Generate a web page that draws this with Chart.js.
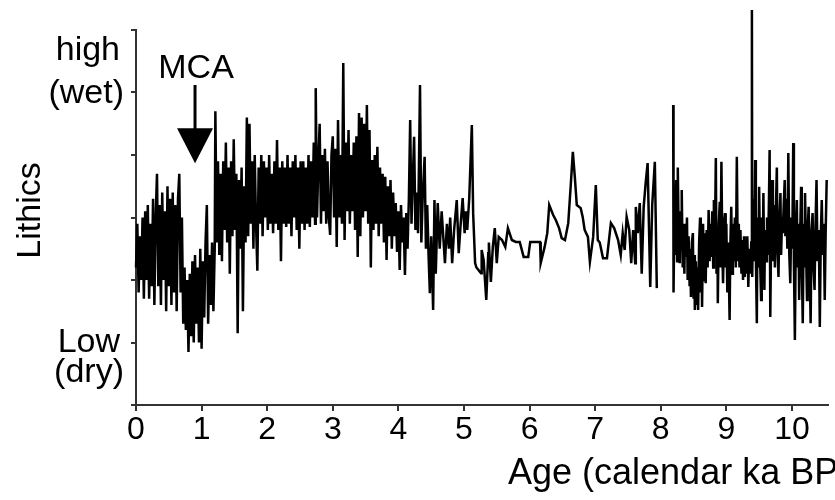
<!DOCTYPE html>
<html>
<head>
<meta charset="utf-8">
<script src="https://cdn.jsdelivr.net/npm/chart.js@4.4.1/dist/chart.umd.min.js"></script>
<style>
  html, body { margin: 0; padding: 0; background: #fff; }
  #wrap { width: 835px; height: 500px; }
</style>
</head>
<body>
<div id="wrap"><canvas id="lithicsChart" width="835" height="500"></canvas></div>
<script>
// ages in calendar ka BP, lithics in relative units (0 = low/dry, 6 = high/wet)
const ageEarly = [0.00,0.02,0.04,0.06,0.08,0.10,0.12,0.14,0.16,0.18,0.20,0.22,0.24,0.26,0.28,0.30,0.32,0.34,0.36,0.38,
  0.40,0.42,0.44,0.46,0.48,0.50,0.52,0.54,0.56,0.58,0.60,0.62,0.64,0.66,0.68,0.70,0.72,0.74,0.76,0.78,
  0.80,0.82,0.84,0.86,0.88,0.90,0.92,0.94,0.96,0.98,1.00,1.02,1.04,1.06,1.08,1.10,1.12,1.14,1.16,1.18,
  1.20,1.21,1.23,1.25,1.27,1.29,1.31,1.33,1.35,1.37,1.39,1.41,1.43,1.45,1.47,1.49,1.51,1.53,1.55,1.57,
  1.59,1.61,1.63,1.65,1.67,1.69,1.71,1.73,1.75,1.77,1.79,1.81,1.83,1.85,1.87,1.89,1.91,1.93,1.95,1.97,
  1.99,2.01,2.03,2.05,2.07,2.09,2.11,2.13,2.15,2.17,2.19,2.21,2.23,2.25,2.27,2.29,2.31,2.33,2.35,2.37,
  2.39,2.41,2.43,2.45,2.47,2.49,2.51,2.53,2.55,2.57,2.59];
const lithicsEarly = [2.2,2.9,1.8,2.7,2.0,3.0,1.7,3.1,2.0,3.2,1.7,2.9,1.9,3.3,1.6,3.0,3.7,1.9,3.2,1.6,
  3.4,2.0,3.1,1.5,3.5,1.9,3.3,1.6,3.4,1.8,3.2,1.5,3.3,3.7,1.8,3.0,1.3,2.2,1.2,2.0,
  0.85,2.1,1.1,2.3,1.0,2.4,1.3,2.2,1.0,2.5,0.9,2.3,1.4,2.6,3.2,1.3,2.4,1.6,2.6,1.5,
  2.5,4.7,2.6,3.9,2.4,3.7,2.3,3.9,2.8,4.2,2.6,3.8,2.1,3.9,2.7,4.25,2.8,3.7,1.15,3.6,
  2.5,3.8,1.5,3.5,2.6,4.6,2.7,4.5,2.9,3.9,2.5,4.0,2.9,2.15,3.8,2.9,4.0,2.7,3.9,3.0,
  3.8,2.8,4.0,2.9,3.7,2.75,3.9,2.9,4.24,2.8,3.8,2.3,3.9,2.9,3.8,2.85,4.0,2.9,3.8,2.7,
  3.9,3.0,4.0,2.8,3.8,2.5,3.9,2.9,3.9,2.8,3.8];

const ageMid = [2.61,2.63,2.65,2.67,2.69,2.71,2.73,2.74,2.76,2.78,2.80,2.82,2.84,2.86,2.88,2.90,2.92,2.94,2.96,2.98,
  3.00,3.02,3.04,3.06,3.08,3.10,3.12,3.14,3.16,3.18,3.20,3.22,3.24,3.26,3.28,3.30,3.32,3.34,3.36,3.38,
  3.40,3.42,3.44,3.46,3.48,3.50,3.52,3.54,3.56,3.58,3.60,3.62,3.64,3.66,3.68,3.70,3.72,3.74,3.76,3.78,
  3.80,3.82,3.84,3.86,3.88,3.90,3.92,3.94,3.96,3.98,4.00,4.02,4.04,4.06,4.08,4.10,4.12,4.14,4.16,4.18,
  4.20,4.22,4.24,4.26,4.28,4.30,4.33,4.35,4.37,4.40,4.42,4.44,4.46,4.48,4.50,4.53,4.55,4.57,4.60,4.63,
  4.66,4.71,4.74,4.77,4.79,4.82,4.85,4.89,4.92,4.95,4.98,5.01,5.03,5.05,5.08,5.12,5.14,5.17,5.19];
const lithicsMid = [2.9,4.0,2.85,3.9,3.0,4.2,2.9,5.07,3.0,3.9,4.5,2.9,4.0,3.1,4.1,2.9,3.9,3.0,2.72,4.0,
  4.3,3.0,4.1,2.53,4.56,3.0,4.0,2.9,5.47,2.64,4.2,3.1,4.4,2.9,4.0,3.1,4.2,2.8,4.3,2.37,
  4.67,2.7,4.6,3.0,4.5,3.1,4.8,2.9,4.4,2.2,3.92,2.8,4.0,2.9,4.13,2.7,3.8,2.9,3.7,2.6,
  3.65,2.32,3.5,2.7,3.6,2.5,3.4,2.7,3.23,2.45,3.1,2.16,3.2,2.6,3.0,2.08,3.07,2.5,3.3,4.56,
  2.9,3.6,4.29,2.8,3.4,2.75,5.12,2.6,3.3,3.97,2.5,3.2,2.4,1.79,2.7,1.52,3.28,2.1,3.23,2.5,
  3.1,2.27,2.9,2.5,3.0,2.27,2.8,3.28,2.43,2.9,3.31,2.75,3.1,2.8,3.3,4.48,3.07,2.27,2.2];

const ageSmooth = [5.26,5.27,5.30,5.34,5.37,5.38,5.41,5.44,5.47,5.50,5.53,5.58,5.63,5.67,5.73,5.79,5.85,5.91,5.98,6.01,
  6.16,6.17,6.23,6.27,6.30,6.36,6.40,6.45,6.49,6.54,6.59,6.63,6.66,6.69,6.72,6.78,6.81,6.84,6.89,6.92,
  6.97,7.01,7.04,7.07,7.12,7.18,7.24,7.29,7.35,7.39,7.42,7.45,7.48,7.52,7.55,7.58,7.61,7.62,7.65,7.68,
  7.71,7.74,7.77,7.80,7.84,7.87,7.91,7.94];
const lithicsSmooth = [2.11,2.48,2.32,1.68,2.43,2.6,1.97,2.53,2.83,2.27,2.69,2.64,2.53,2.83,2.64,2.61,2.61,2.37,2.37,2.61,
  2.61,2.27,2.53,2.75,3.2,3.04,2.96,2.83,2.67,2.64,2.91,3.55,4.05,3.65,3.2,3.15,3.01,2.8,2.69,2.29,
  2.69,3.52,2.64,2.6,2.35,2.35,2.91,2.83,2.64,2.4,2.75,2.48,3.01,2.8,2.27,2.8,2.27,3.17,2.75,3.23,
  2.1,3.17,3.55,3.87,1.89,3.2,3.89,1.87];

// no samples between ~7.95 and ~8.19 ka
const gapAge = 8.05;

const ageLate = [8.19,8.195,8.21,8.22,8.235,8.25,8.26,8.275,8.29,8.30,8.315,8.32,8.335,8.35,8.36,8.37,8.385,8.40,8.41,8.425,
  8.44,8.45,8.46,8.475,8.49,8.50,8.51,8.52,8.535,8.55,8.56,8.57,8.585,8.60,8.61,8.62,8.63,8.645,8.66,8.67,
  8.685,8.70,8.715,8.73,8.745,8.76,8.77,8.785,8.80,8.81,8.825,8.84,8.85,8.865,8.87,8.885,8.90,8.91,8.925,8.94,
  8.95,8.965,8.98,8.99,9.00,9.015,9.03,9.05,9.06,9.075,9.09,9.10,9.115,9.13,9.145,9.16,9.175,9.19,9.20,9.215,
  9.23,9.24,9.255,9.27,9.28,9.295,9.31,9.32,9.335,9.35,9.365,9.38,9.39,9.395,9.41,9.425,9.44,9.45,9.465,9.475,
  9.49,9.50,9.515,9.53,9.54,9.555,9.565,9.58,9.59,9.605,9.62,9.635,9.65,9.66,9.67,9.685,9.70,9.71,9.725,9.74,
  9.755,9.77,9.78,9.795,9.81,9.825,9.835,9.85,9.86,9.875,9.89,9.90,9.915,9.93,9.945,9.96,9.975,9.99,10.005,10.02,
  10.03,10.045,10.06,10.075,10.085,10.10,10.11,10.125,10.14,10.15,10.165,10.18,10.19,10.20,10.215,10.23,10.24,10.255,10.27,10.285,
  10.30,10.315,10.33,10.345,10.36,10.375,10.39,10.41,10.425,10.44,10.455,10.47,10.485,10.50,10.515,10.53];
const lithicsLate = [4.8,1.8,3.2,2.4,3.6,2.3,3.8,2.6,2.27,3.1,2.5,3.44,2.2,2.9,2.1,2.9,2.37,3.0,2.0,2.7,
  1.9,2.5,1.73,2.6,2.75,1.7,2.4,1.52,2.3,1.6,2.2,1.52,2.6,3.0,1.8,2.7,1.57,2.9,2.0,2.75,
  1.95,2.8,2.2,3.12,2.3,2.9,2.37,3.1,2.2,3.28,2.6,3.95,2.1,2.8,1.63,2.9,3.25,2.2,3.89,2.4,
  1.95,2.9,3.07,2.2,2.9,1.8,2.6,1.36,2.5,3.17,2.1,2.9,2.3,3.0,2.2,3.97,2.3,2.9,2.2,2.8,
  2.1,2.64,2.0,2.7,2.05,2.64,2.1,2.7,1.89,2.5,2.1,2.6,6.32,2.05,3.3,2.3,3.92,2.4,1.31,3.0,
  2.2,3.49,2.3,1.68,3.0,2.2,3.39,1.84,2.8,2.3,3.0,2.4,3.3,4.08,1.41,2.9,3.6,2.3,3.2,2.2,
  3.1,3.8,2.5,2.05,3.0,3.39,2.4,3.0,2.75,3.2,3.6,2.7,3.3,2.5,4.03,2.4,1.95,3.0,2.5,4.19,
  2.3,1.04,2.8,3.28,2.2,2.9,1.68,2.7,3.49,2.3,1.31,2.9,2.2,3.39,2.5,1.68,2.8,3.17,2.3,1.31,
  2.8,3.07,2.2,1.84,2.9,3.6,2.3,2.8,1.25,2.7,3.28,2.4,2.9,1.68,2.8,3.6];

const xTicks = [0,1,2,3,4,5,6,7,8,9,10];

const FONT = '"Liberation Sans", Arial, Helvetica, sans-serif';

const points = [];
function addPoints(ages, vals) {
  ages.forEach(function(a, i) { points.push({ x: a, y: vals[i] }); });
}
addPoints(ageEarly, lithicsEarly);
addPoints(ageMid, lithicsMid);
addPoints(ageSmooth, lithicsSmooth);
points.push({ x: gapAge, y: null });
addPoints(ageLate, lithicsLate);

const labelsPlugin = {
  id: 'labels',
  afterDraw(chart) {
    const ctx = chart.ctx;
    const x = chart.scales.x, y = chart.scales.y;
    const left = chart.chartArea.left;
    ctx.save();
    ctx.fillStyle = '#000';
    ctx.strokeStyle = '#000';

    ctx.font = '34px ' + FONT;
    ctx.textAlign = 'right';
    ctx.textBaseline = 'alphabetic';
    ctx.fillText('high', left - 16, y.getPixelForValue(5.52));
    ctx.fillText('(wet)', left - 12, y.getPixelForValue(4.84));
    ctx.fillText('Low', left - 16, y.getPixelForValue(0.85));
    ctx.fillText('(dry)', left - 12, y.getPixelForValue(0.37));

    // y axis title
    ctx.save();
    ctx.translate(40, (chart.chartArea.top + chart.chartArea.bottom) / 2 - 7);
    ctx.rotate(-Math.PI / 2);
    ctx.textAlign = 'center';
    ctx.fillText('Lithics', 0, 0);
    ctx.restore();

    // x axis title, runs off the right edge like the original
    ctx.font = '36px ' + FONT;
    ctx.textAlign = 'left';
    ctx.fillText('Age (calendar ka BP)', 508, 484);

    // MCA marker
    ctx.font = '34px ' + FONT;
    const mx = x.getPixelForValue(0.9);
    ctx.textAlign = 'center';
    ctx.fillText('MCA', mx + 1, y.getPixelForValue(5.23));
    ctx.lineWidth = 3;
    ctx.beginPath();
    ctx.moveTo(mx, y.getPixelForValue(5.12));
    ctx.lineTo(mx, y.getPixelForValue(4.4));
    ctx.stroke();
    ctx.beginPath();
    ctx.moveTo(mx - 18, y.getPixelForValue(4.43));
    ctx.lineTo(mx + 18, y.getPixelForValue(4.43));
    ctx.lineTo(mx, y.getPixelForValue(3.87));
    ctx.closePath();
    ctx.fill();
    ctx.restore();
  }
};

new Chart(document.getElementById('lithicsChart'), {
  type: 'line',
  data: {
    datasets: [{
      label: 'Lithics',
      data: points,
      borderColor: '#000',
      borderWidth: 2.5,
      pointRadius: 0,
      tension: 0,
      spanGaps: false,
      clip: false
    }]
  },
  options: {
    responsive: false,
    animation: false,
    layout: { padding: { top: 30, right: 7, left: 0, bottom: 0 } },
    plugins: { legend: { display: false }, tooltip: { enabled: false } },
    scales: {
      x: {
        type: 'linear',
        min: 0,
        max: 10.55,
        afterFit(scale) { scale.height = 95; },
        afterBuildTicks(scale) { scale.ticks = xTicks.map(v => ({ value: v })); },
        ticks: {
          color: '#000',
          font: { family: FONT, size: 32 },
          padding: 0,
          maxRotation: 0,
          autoSkip: false
        },
        grid: { drawOnChartArea: false, drawTicks: true, tickLength: 6, color: '#333', lineWidth: 2 },
        border: { color: '#333', width: 2 }
      },
      y: {
        min: 0,
        max: 6,
        afterFit(scale) { scale.width = 136; },
        ticks: { stepSize: 1, display: false },
        grid: { drawOnChartArea: false, drawTicks: true, tickLength: 5, color: '#333', lineWidth: 2 },
        border: { color: '#333', width: 2 }
      }
    }
  },
  plugins: [labelsPlugin]
});
</script>
</body>
</html>
